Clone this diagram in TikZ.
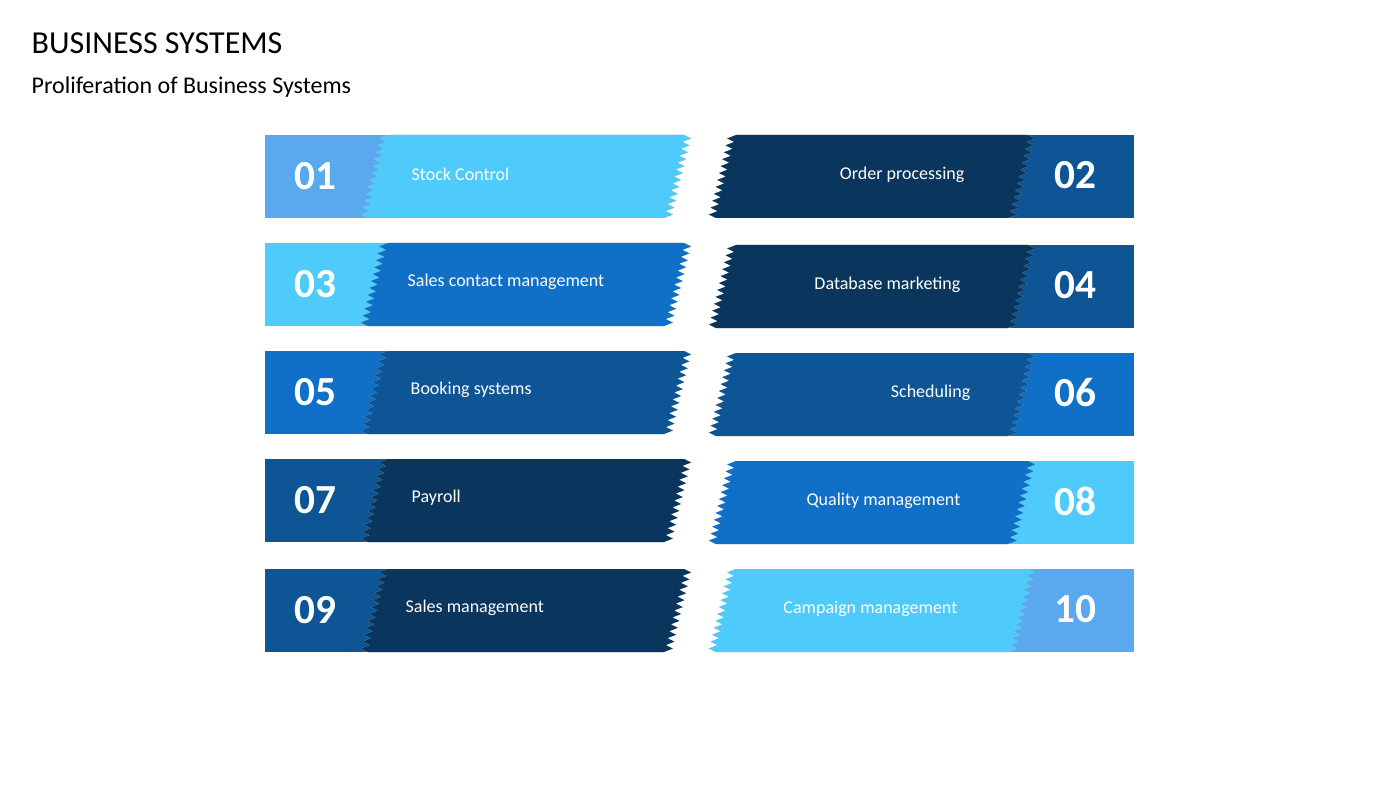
\documentclass[tikz,border=0pt]{standalone}
\usepackage{fontspec}
\setmainfont{Carlito}
\usetikzlibrary{calc}
\definecolor{cA}{HTML}{5AA8EE}
\definecolor{cB}{HTML}{4FCBFB}
\definecolor{cC}{HTML}{1070C8}
\definecolor{cD}{HTML}{0E5596}
\definecolor{cE}{HTML}{0A365E}
\tikzset{numtxt/.style={text=white,font=\bfseries\fontsize{31}{31}\selectfont},
  lbl/.style={text=white,font=\fontsize{13.5}{14}\selectfont}}
% #1 x0top #2 x0bot #3 x1top #4 x1bot #5 ytop #6 ybot #7 color #8 name
\newcommand{\myribbon}[8]{%
  \coordinate (#8LT) at (#1,#5); \coordinate (#8LB) at (#2,#6);
  \coordinate (#8RT) at (#3,#5); \coordinate (#8RB) at (#4,#6);
  \fill[black!25,shift={(2,3)}] (#8RT)
    \foreach \k in {0,...,11}{ -- ($(#8RT)!{(\k+0.5)/12}!(#8RB)+(8,0)$) -- ($(#8RT)!{(\k+1)/12}!(#8RB)$)}
    -- (#8LB)
    \foreach \k in {0,...,11}{ -- ($(#8LB)!{(\k+0.5)/12}!(#8LT)+(-8,0)$) -- ($(#8LB)!{(\k+1)/12}!(#8LT)$)} -- cycle;
  \fill[#7] (#8RT)
    \foreach \k in {0,...,11}{ -- ($(#8RT)!{(\k+0.5)/12}!(#8RB)+(8,0)$) -- ($(#8RT)!{(\k+1)/12}!(#8RB)$)}
    -- (#8LB)
    \foreach \k in {0,...,11}{ -- ($(#8LB)!{(\k+0.5)/12}!(#8LT)+(-8,0)$) -- ($(#8LB)!{(\k+1)/12}!(#8LT)$)} -- cycle;
}
\begin{document}
\begin{tikzpicture}[x=0.75pt,y=-0.75pt]
\useasboundingbox[fill=white] (0,0) rectangle (1400,788);
\node[anchor=west,font=\fontsize{24}{24}\selectfont] (title) at (27,43) {BUSINESS SYSTEMS};
\node[anchor=west,font=\fontsize{18}{18}\selectfont] (sub) at (27,87) {Proliferation of Business Systems};
% left column
\foreach \yt/\bc/\rc/\n/\t/\lx [count=\i] in {
 135/cA/cB/01/Stock Control/407,
 243/cB/cC/03/Sales contact management/403,
 351/cC/cD/05/Booking systems/406,
 459/cD/cE/07/Payroll/407,
 569/cD/cE/09/Sales management/401}{
  \pgfmathsetmacro{\yb}{\yt+83}
  \fill[\bc] (265,\yt) rectangle (400,\yb);
  \myribbon{388}{368}{684}{664}{\yt}{\yb}{\rc}{L\i}
  \node[numtxt] (nL\i) at (315,{\yt+41}) {\n};
  \node[lbl,anchor=west] (tL\i) at (\lx,{\yt+39}) {\t};
}
% right column
\foreach \yt/\bc/\rc/\n/\t/\lx [count=\i] in {
 135/cD/cE/02/Order processing/969,
 245/cD/cE/04/Database marketing/965,
 353/cC/cD/06/Scheduling/975,
 461/cB/cC/08/Quality management/965,
 569/cA/cB/10/Campaign management/962}{
  \pgfmathsetmacro{\yb}{\yt+83}
  \fill[\bc] (1010,\yt) rectangle (1134,\yb);
  \myribbon{736}{716}{1028}{1008}{\yt}{\yb}{\rc}{R\i}
  \node[numtxt] (nR\i) at (1075,{\yt+40}) {\n};
  \node[lbl,anchor=east] (tR\i) at (\lx,{\yt+40}) {\t};
}
\end{tikzpicture}
\end{document}
